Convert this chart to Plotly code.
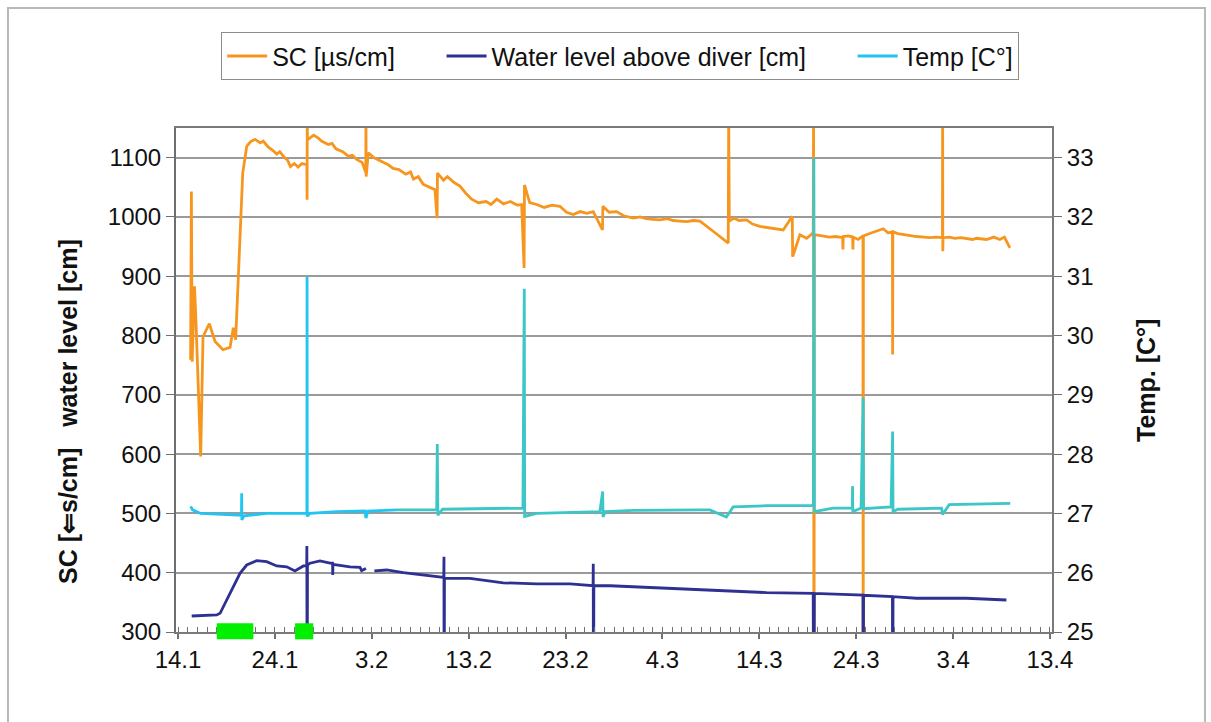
import plotly.graph_objects as go
from datetime import datetime, timedelta

T0 = datetime(2008, 1, 14)

# ---- data (days after 14.1.2008) ----
sc_day = [1.30, 1.38, 1.46, 1.70, 1.85, 2.34, 2.58, 3.23, 3.82, 4.64, 5.37, 5.71, 5.95,
          6.33, 6.68, 7.09, 7.5, 7.95, 8.5, 8.8, 9.3, 9.8, 10.2, 10.5, 11.0, 11.3, 11.6,
          12.0, 12.4, 12.8, 13.30, 13.32, 13.34, 13.36, 14.0, 14.48, 14.8, 15.5, 15.9,
          16.3, 17.0, 17.6, 18.0, 18.44, 19.0, 19.38, 19.40, 19.42, 19.64, 20.2, 20.6,
          21.19, 21.7, 22.2, 22.8, 23.5, 24.0, 24.3, 24.8, 25.31, 26.0, 26.52, 26.74,
          26.78, 27.4, 27.8, 28.5, 29.10, 29.7, 30.3, 31.0, 31.8, 32.3, 32.9, 33.6,
          34.3, 35.0, 35.47, 35.72, 35.76, 36.3, 37.02, 37.8, 38.6, 39.42, 40.1, 40.79,
          41.5, 42.2, 42.86, 43.81, 43.85, 44.5, 45.27, 46.0, 46.99, 47.7, 48.3, 49.0,
          49.74, 50.5, 51.1, 51.8, 52.50, 53.2, 53.87, 55.3, 56.79, 56.84, 56.90, 57.4,
          57.9, 58.69, 59.3, 60.06, 61.3, 62.47, 63.40, 63.44, 64.19, 64.88, 65.56,
          65.60, 65.64, 65.68, 66.5, 67.2, 67.9, 68.60, 68.63, 68.66, 69.2, 69.63, 69.66,
          69.69, 70.2, 70.70, 70.72, 70.74, 71.4, 72.0, 72.79, 73.3, 73.74, 73.76, 73.78,
          74.3, 75.0, 75.6, 76.23, 77.0, 77.6, 78.3, 78.90, 78.92, 78.94, 78.96, 79.6,
          80.2, 80.8, 81.39, 82.0, 82.4, 83.0, 83.46, 84.2, 84.83, 85.3, 85.86]
sc_val = [759, 1043, 756, 883, 826, 596, 798, 820, 790, 776, 780, 813, 793,
          939, 1074, 1119, 1127, 1131, 1125, 1128, 1118, 1112, 1106, 1110, 1100, 1096, 1085,
          1090, 1084, 1090, 1088, 1029, 1170, 1130, 1138, 1133, 1128, 1122, 1124,
          1115, 1110, 1102, 1104, 1097, 1092, 1075, 1170, 1068, 1108, 1100, 1097,
          1092, 1088, 1082, 1080, 1072, 1076, 1064, 1068, 1055, 1050, 1046, 998,
          1074, 1062, 1068, 1058, 1052, 1040, 1030, 1024, 1026, 1021, 1030, 1022,
          1026, 1020, 1021, 914, 1054, 1024, 1021, 1016, 1020, 1018, 1008, 1004,
          1009, 1006, 1009, 978, 1018, 1008, 1009, 1002, 998, 1000, 997, 996,
          995, 997, 994, 993, 992, 994, 993, 975, 956, 1170, 993, 998,
          994, 995, 988, 984, 981, 978, 1001, 933, 970, 964, 973,
          1170, 0, 970, 968, 966, 967, 965, 945, 967, 968, 966, 945,
          966, 962, 968, 0, 968, 972, 975, 980, 973, 975, 768, 975,
          972, 970, 968, 967, 966, 965, 966, 965, 1170, 942, 965, 966,
          964, 965, 964, 962, 964, 963, 962, 966, 962, 966, 948]

wl_day = [1.41, 4.0, 4.34, 5.37, 6.40, 7.09, 8.12, 9.15, 10.19, 11.22, 12.07, 12.94,
          13.28, 13.30, 13.32, 13.36, 13.62, 14.65, 15.69, 15.95, 15.97, 15.99, 17.75,
          18.78, 18.95, 19.40, 19.8, 20.27, 21.54, 23.25, 25.31, 26.69, 27.43, 27.45,
          27.47, 27.50, 27.73, 30.13, 33.57, 37.02, 40.47, 42.71, 42.84, 42.86, 42.88,
          42.92, 44.6, 50.44, 54.90, 60.75, 65.56, 65.63, 65.68, 67.63, 70.70, 70.72,
          70.76, 73.74, 73.76, 73.80, 76.23, 81.39, 85.50]
wl_val = [327, 328.7, 331.5, 365, 399, 413, 420.4, 418.7, 411.4, 410, 403, 411.4,
          412, 445, 0, 413, 416, 419.8, 416, 416, 396, 414, 410,
          409, 403.5, 407, None, 403, 404.6, 400, 396, 392.3, 392, 427,
          0, 391, 390.6, 390.6, 383, 381, 381, 377.6, 378, 415, 0,
          378, 378, 373.7, 371, 366.4, 365.3, 0, 365, 364, 362.4, 0,
          362, 359.6, 0, 359.5, 356.9, 356.9, 354]

temp_a_day = [1.31, 1.5, 2.34, 6.0, 6.55, 6.57, 6.59, 6.8, 9.15, 12.77, 13.30, 13.32,
              13.34, 13.6, 16.4, 19.30, 19.40, 19.6, 22.6]
temp_a_val = [27.12, 27.06, 27.00, 26.97, 26.97, 27.34, 26.89, 26.96, 27.00, 27.00, 27.00, 31.00,
              26.95, 27.00, 27.03, 27.04, 26.92, 27.04, 27.06]

temp_b_day = [22.6, 26.70, 26.76, 26.82, 27.3, 35.6, 35.74, 35.78, 37.02, 43.54, 43.83, 43.87,
              44.1, 46.99, 53.87, 54.90, 56.6, 57.3, 60.8, 65.58, 65.63, 65.68, 67.6,
              69.6, 69.62, 69.65, 70.5, 70.72, 70.76, 73.6, 73.76, 73.80, 74.3, 78.8,
              78.92, 79.6, 85.9]
temp_b_val = [27.06, 27.06, 28.17, 26.97, 27.07, 27.09, 30.79, 26.95, 27.00, 27.03, 27.37, 26.94,
              27.03, 27.05, 27.06, 27.06, 26.94, 27.11, 27.13, 27.13, 33.0, 27.03, 27.09,
              27.09, 27.46, 27.03, 27.09, 28.95, 27.08, 27.11, 28.38, 27.03, 27.07, 27.09,
              26.98, 27.15, 27.17]

rain_start = ["2008-01-18 00:00", "2008-01-26 02:00"]
rain_end = ["2008-01-21 18:30", "2008-01-27 23:00"]

x_tick_dates = ["2008-01-14", "2008-01-24", "2008-02-03", "2008-02-13", "2008-02-23",
                "2008-03-04", "2008-03-14", "2008-03-24", "2008-04-03", "2008-04-13"]
x_tick_labels = ["14.1", "24.1", "3.2", "13.2", "23.2", "4.3", "14.3", "24.3", "3.4", "13.4"]


def to_time(days):
    return [T0 + timedelta(days=d) for d in days]


FONT = "Liberation Sans, Arial, sans-serif"
ORANGE = "#F7961E"
NAVY = "#2E3192"
CYAN = "#22C4F0"
TURQ = "#3CC6C6"
PAD = "\u00a0" * 6

fig = go.Figure()
fig.add_trace(go.Scatter(x=to_time(sc_day), y=sc_val, mode="lines", name="SC [µs/cm]" + PAD,
                         line=dict(color=ORANGE, width=2.8)))
fig.add_trace(go.Scatter(x=to_time(wl_day), y=wl_val, mode="lines",
                         name="Water level above diver [cm]" + PAD, connectgaps=False,
                         line=dict(color=NAVY, width=2.8)))
fig.add_trace(go.Scatter(x=to_time(temp_a_day), y=temp_a_val, mode="lines", name="Temp [C°]",
                         yaxis="y2", line=dict(color=CYAN, width=2.8)))
fig.add_trace(go.Scatter(x=to_time(temp_b_day), y=temp_b_val, mode="lines", name="Temp [C°]",
                         yaxis="y2", showlegend=False, line=dict(color=TURQ, width=2.8)))

shapes = []
for s, e in zip(rain_start, rain_end):
    shapes.append(dict(type="rect", xref="x", yref="paper", x0=s, x1=e,
                       y0=-0.0145, y1=0.0173, fillcolor="#00F000", line=dict(width=0),
                       layer="above"))
# outer chart border
shapes.append(dict(type="rect", xref="paper", yref="paper", x0=-0.1918, x1=1.1747,
                   y0=-0.19, y1=1.2381, line=dict(color="#B8B8B8", width=2),
                   fillcolor="rgba(0,0,0,0)", layer="below"))

fig.update_layout(
    width=1211, height=722,
    margin=dict(l=176, r=159, t=128, b=90),
    paper_bgcolor="white", plot_bgcolor="white",
    font=dict(family=FONT, size=24, color="#111111"),
    showlegend=True,
    legend=dict(orientation="h", x=0.507, xanchor="center", y=1.19, yanchor="top",
                bordercolor="#8C8C8C", borderwidth=1, bgcolor="white",
                font=dict(family=FONT, size=25, color="#111111"), itemwidth=40,
                tracegroupgap=0),
    xaxis=dict(type="date", range=["2008-01-13 19:00", "2008-04-13 05:00"],
               tickvals=x_tick_dates, ticktext=x_tick_labels,
               ticks="outside", ticklen=5, tickcolor="#707070", tickwidth=1.5,
               minor=dict(ticks="inside", ticklen=5, dtick=86400000, tick0="2008-01-14",
                          tickcolor="#707070", tickwidth=1, showgrid=False),
               showgrid=False, showline=True, linecolor="#7A7A7A", linewidth=2,
               mirror=True, zeroline=False,
               tickfont=dict(family=FONT, size=24, color="#111111")),
    yaxis=dict(range=[300, 1150], tick0=300, dtick=100, ticks="outside", ticklen=8,
               tickcolor="#707070", showgrid=True, gridcolor="#9A9A9A", gridwidth=1.5,
               showline=True, linecolor="#6E6E6E", linewidth=2, mirror=False,
               zeroline=False, tickfont=dict(family=FONT, size=24, color="#111111")),
    yaxis2=dict(range=[25, 33.5], tick0=25, dtick=1, overlaying="y", side="right",
                ticks="outside", ticklen=8, tickcolor="#707070", showgrid=False,
                showline=True, linecolor="#7A7A7A", linewidth=2, zeroline=False,
                tickfont=dict(family=FONT, size=24, color="#111111")),
    shapes=shapes,
    annotations=[
        dict(text="<b>SC [⇐s/cm]   water level [cm]</b>", xref="paper", yref="paper",
             x=-0.1233, y=0.4385, xanchor="center", yanchor="middle", textangle=-90,
             showarrow=False, font=dict(family=FONT, size=25, color="#111111")),
        dict(text="<b>Temp. [C°]</b>", xref="paper", yref="paper",
             x=1.1073, y=0.5, xanchor="center", yanchor="middle", textangle=-90,
             showarrow=False, font=dict(family=FONT, size=25, color="#111111")),
    ],
)

fig.write_html("out.html")
